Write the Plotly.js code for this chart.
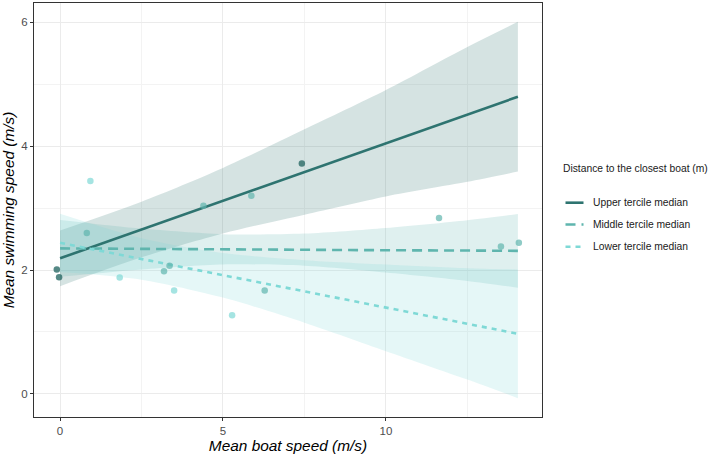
<!DOCTYPE html>
<html>
<head>
<meta charset="utf-8">
<script src="https://cdn.plot.ly/plotly-3.0.1.min.js"></script>
<style>
  html, body { margin: 0; padding: 0; background: #ffffff; }
  #chart { width: 709px; height: 456px; }
</style>
</head>
<body>
<div id="chart"></div>
<script>
// Observations: mean boat speed (x) vs mean swimming speed (y), by tercile group
const upperX = [-0.10, -0.03, 7.42];
const upperY = [2.01, 1.885, 3.72];
const middleX = [0.82, 3.19, 3.36, 4.40, 5.87, 6.28, 11.63, 13.53, 14.08];
const middleY = [2.60, 1.98, 2.07, 3.04, 3.20, 1.67, 2.84, 2.38, 2.44];
const lowerX = [0.93, 1.83, 3.50, 5.28];
const lowerY = [3.44, 1.88, 1.67, 1.27];

// Linear fits with 95% confidence bands, sampled along the boat-speed axis
const fitX = [0, 2.5, 5, 7.5, 10, 12.5, 14.05];
const upperFit = [2.19, 2.655, 3.12, 3.585, 4.05, 4.515, 4.80];
const upperHi  = [2.64, 3.105, 3.65, 4.275, 4.91, 5.605, 6.01];
const upperLo  = [1.74, 2.205, 2.59, 2.895, 3.19, 3.425, 3.59];
const middleFit = [2.35, 2.34, 2.335, 2.33, 2.32, 2.315, 2.31];
const middleHi  = [2.81, 2.67, 2.58, 2.59, 2.68, 2.805, 2.905];
const middleLo  = [1.89, 2.01, 2.09, 2.07, 1.96, 1.825, 1.715];
const lowerFit = [2.44, 2.18, 1.915, 1.655, 1.39, 1.13, 0.97];
const lowerHi  = [2.91, 2.515, 2.275, 2.16, 2.09, 2.03, 2.01];
const lowerLo  = [1.97, 1.845, 1.555, 1.15, 0.69, 0.23, -0.07];

const groupNames = ['Upper tercile median', 'Middle tercile median', 'Lower tercile median'];
const legendTitle = 'Distance to the closest boat (m)';
const xTitle = 'Mean boat speed (m/s)';
const yTitle = 'Mean swimming speed (m/s)';

const lineColors = ['#2e7470', '#5fb5ae', '#7fd9d6'];
const bandFills = ['rgba(46,116,112,0.2)', 'rgba(95,181,174,0.2)', 'rgba(127,217,214,0.2)'];
const markerColors = ['#2b6a67', '#5fb5ae', '#7fd9d6'];
const dashes = ['solid', '10px,6px', '5px,5px'];

const groups = [
  {px: upperX, py: upperY, fit: upperFit, hi: upperHi, lo: upperLo},
  {px: middleX, py: middleY, fit: middleFit, hi: middleHi, lo: middleLo},
  {px: lowerX, py: lowerY, fit: lowerFit, hi: lowerHi, lo: lowerLo}
];

const traces = [];
// confidence bands: lower edge, then upper edge filled down to it
groups.forEach((g, i) => {
  traces.push({x: fitX, y: g.lo, type: 'scatter', mode: 'lines',
    line: {width: 0, shape: 'spline', smoothing: 0.8}, hoverinfo: 'skip', showlegend: false});
  traces.push({x: fitX, y: g.hi, type: 'scatter', mode: 'lines', fill: 'tonexty',
    fillcolor: bandFills[i], line: {width: 0, shape: 'spline', smoothing: 0.8},
    hoverinfo: 'skip', showlegend: false});
});
// fitted lines
groups.forEach((g, i) => {
  traces.push({x: fitX, y: g.fit, type: 'scatter', mode: 'lines', name: groupNames[i],
    line: {color: lineColors[i], width: 2.6, dash: dashes[i]}, showlegend: false});
});
// observed points
groups.forEach((g, i) => {
  traces.push({x: g.px, y: g.py, type: 'scatter', mode: 'markers', name: groupNames[i],
    marker: {color: markerColors[i], size: 6.5, opacity: i === 0 ? 0.8 : 0.7, line: {width: 0}},
    showlegend: false});
});

// plot box in pixels (for placing the legend beside the panel)
const W = 709, H = 456;
const boxL = 34, boxR = 542, boxT = 3, boxB = 417;
const px = v => (v - boxL) / (boxR - boxL);
const py = v => (boxB - v) / (boxB - boxT);

const fontFam = 'Liberation Sans, Arial, Helvetica, sans-serif';
const keyY = [202.7, 224.5, 246.7];

const shapes = groupNames.map((n, i) => ({
  type: 'line', xref: 'paper', yref: 'paper',
  x0: px(565.5), x1: px(583.5), y0: py(keyY[i]), y1: py(keyY[i]),
  line: {color: lineColors[i], width: 2.6, dash: dashes[i]}
}));

const annotations = [
  {text: legendTitle, xref: 'paper', yref: 'paper', x: px(561), y: py(168),
   xanchor: 'left', yanchor: 'middle', showarrow: false,
   font: {family: fontFam, size: 10.3, color: '#1a1a1a'}}
].concat(groupNames.map((n, i) => ({
  text: n, xref: 'paper', yref: 'paper', x: px(591), y: py(keyY[i]),
  xanchor: 'left', yanchor: 'middle', showarrow: false,
  font: {family: fontFam, size: 10.3, color: '#1a1a1a'}
})));

const layout = {
  width: W, height: H,
  margin: {l: boxL, r: W - boxR, t: boxT, b: H - boxB, pad: 0},
  paper_bgcolor: '#ffffff', plot_bgcolor: '#ffffff',
  showlegend: false,
  font: {family: fontFam},
  xaxis: {
    range: [-0.8, 14.79], tickvals: [0, 5, 10], ticktext: ['0', '5', '10'],
    showgrid: true, gridcolor: '#ebebeb', gridwidth: 1,
    minor: {tickvals: [2.5, 7.5, 12.5], showgrid: true, gridcolor: '#f3f3f3', gridwidth: 1, ticks: ''},
    zeroline: false, showline: true, mirror: true, linecolor: '#333333', linewidth: 1,
    ticks: 'outside', ticklen: 3, tickwidth: 1, tickcolor: '#333333',
    tickfont: {family: fontFam, size: 11.5, color: '#4d4d4d'},
    title: {text: xTitle, font: {family: fontFam, size: 15.4, color: '#000000', style: 'italic'}, standoff: 4},
    automargin: false
  },
  yaxis: {
    range: [-0.374, 6.314], tickvals: [0, 2, 4, 6], ticktext: ['0', '2', '4', '6'],
    showgrid: true, gridcolor: '#ebebeb', gridwidth: 1,
    minor: {tickvals: [1, 3, 5], showgrid: true, gridcolor: '#f3f3f3', gridwidth: 1, ticks: ''},
    zeroline: false, showline: true, mirror: true, linecolor: '#333333', linewidth: 1,
    ticks: 'outside', ticklen: 3, tickwidth: 1, tickcolor: '#333333',
    tickfont: {family: fontFam, size: 11.5, color: '#4d4d4d'},
    title: {text: yTitle, font: {family: fontFam, size: 15.4, color: '#000000', style: 'italic'}, standoff: 2},
    automargin: false
  },
  shapes: shapes,
  annotations: annotations
};

Plotly.newPlot('chart', traces, layout, {displayModeBar: false, staticPlot: true});
</script>
</body>
</html>
